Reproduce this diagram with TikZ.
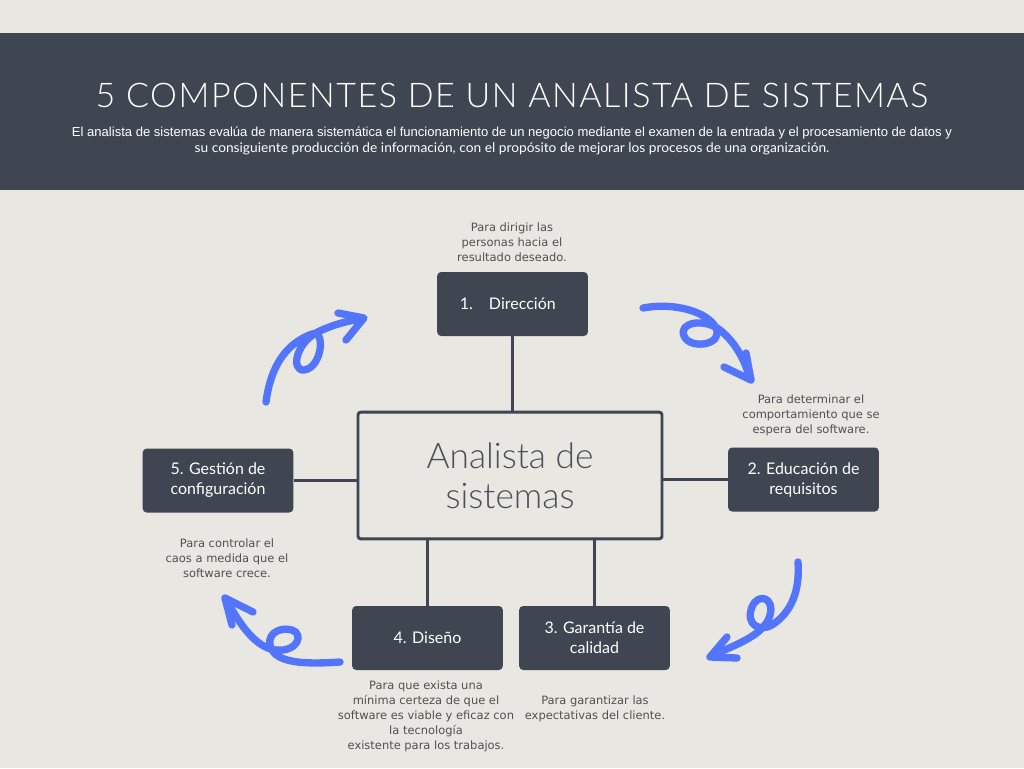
\documentclass[tikz,border=0pt]{standalone}
\usepackage{fontspec}
\setmainfont{Lato}
\newfontfamily\titlefont[LetterSpace=4.5]{Lato Light}
\newfontfamily\lightfont{Lato Light}
\newfontfamily\subfont{Liberation Sans}
\newfontfamily\smallfont{DejaVu Sans}
\definecolor{bg}{RGB}{232,231,225}
\definecolor{dark}{RGB}{63,69,81}
\definecolor{blu}{RGB}{82,117,252}
\definecolor{lbl}{RGB}{80,80,82}
\definecolor{ctext}{RGB}{75,79,88}
\tikzset{
  box/.style={rectangle, rounded corners=3pt, fill=dark, text=white, minimum width=113pt, minimum height=48pt, align=center, inner sep=2pt, font=\fontsize{12}{15}\selectfont},
  conn/.style={draw=dark, line width=2.2pt},
  lab/.style={align=center, text=lbl, font=\smallfont\fontsize{8.6}{11.25}\selectfont, inner sep=0pt},
  arr/.style={draw=blu, line width=5.5pt, line cap=round, line join=round},
}
\begin{document}
\begin{tikzpicture}[x=0.75pt,y=-0.75pt]
\useasboundingbox (0,0) rectangle (1024,768);
\fill[bg] (0,0) rectangle (1024,768);
\fill[dark] (0,33) rectangle (1024,190);
\node[text=white, inner sep=0pt] (title) at (512,95) {\titlefont\fontsize{25.5}{30}\selectfont 5 COMPONENTES DE UN ANALISTA DE SISTEMAS};
\node[text=white, inner sep=0pt, align=center] (sub) at (512,141) {\subfont\fontsize{9.75}{12}\selectfont
  \resizebox{660pt}{\height}{El analista de sistemas evalúa de manera sistemática el funcionamiento de un negocio mediante el examen de la entrada y el procesamiento de datos y}\\
  \resizebox{476pt}{\height}{su consiguiente producción de información, con el propósito de mejorar los procesos de una organización.}};

\node[rectangle, rounded corners=2pt, draw=dark, line width=2.2pt, fill=bg, minimum width=228pt, minimum height=95pt, align=center, text=ctext, font=\lightfont\fontsize{26.5}{30}\selectfont] (c) at (510,475.5) {Analista de\\sistemas};

\node[box] (n1) at (512.5,304) {1.\hspace{1.0em}Dirección\hspace*{7pt}};
\node[box] (n2) at (803.5,479.5) {2. Educación de\\requisitos};
\node[box] (n3) at (594.5,638) {3. Garantía de\\calidad};
\node[box] (n4) at (427.5,638) {4. Diseño};
\node[box] (n5) at (218,480.5) {5. Gestión de\\configuración};

\draw[conn] (n1.south) -- (n1.south |- c.north);
\draw[conn] (n2.west) -- (n2.west -| c.east);
\draw[conn] (n5.east) -- (n5.east -| c.west);
\draw[conn] (n4.north) -- (n4.north |- c.south);
\draw[conn] (n3.north) -- (n3.north |- c.south);

\node[lab] (l1) at (512,242) {Para dirigir las\\personas hacia el\\resultado deseado.};
\node[lab] (l2) at (811,415) {Para determinar el\\comportamiento que se\\espera del software.};
\node[lab] (l5) at (227,558) {Para controlar el\\caos a medida que el\\software crece.};
\node[lab] (l4) at (426,716) {Para que exista una\\mínima certeza de que el\\software es viable y eficaz con\\la tecnología\\existente para los trabajos.};
\node[lab] (l3) at (595,708.5) {Para garantizar las\\expectativas del cliente.};

% arrows
\draw[arr] (266,402) .. controls (270,372) and (282,345) .. (312,334) .. controls (326,329) and (322,368) .. (304,370) .. controls (290,371) and (296,340) .. (322,330) .. controls (338,323) and (352,320) .. (363,319);
\draw[arr] (338,313) -- (364,318) -- (346,340);

\draw[arr] (643,308) .. controls (675,302) and (708,312) .. (716,328) .. controls (724,345) and (690,350) .. (684,336) .. controls (678,322) and (705,318) .. (720,330) .. controls (735,342) and (745,360) .. (750,379);
\draw[arr] (724,367) -- (751,380) -- (746,353);

\draw[arr] (798,562) .. controls (800,590) and (792,612) .. (772,625) .. controls (760,632) and (745,625) .. (752,607) .. controls (758,592) and (775,598) .. (770,615) .. controls (765,635) and (735,645) .. (711,656);
\draw[arr] (727,637) -- (710,657) -- (737,658);

\draw[arr] (340,662) .. controls (310,664) and (280,664) .. (272,650) .. controls (264,636) and (278,626) .. (292,630) .. controls (304,634) and (298,652) .. (276,650) .. controls (256,648) and (240,625) .. (226,599);
\draw[arr] (253,612) -- (225,598) -- (232,625);
\end{tikzpicture}
\end{document}
